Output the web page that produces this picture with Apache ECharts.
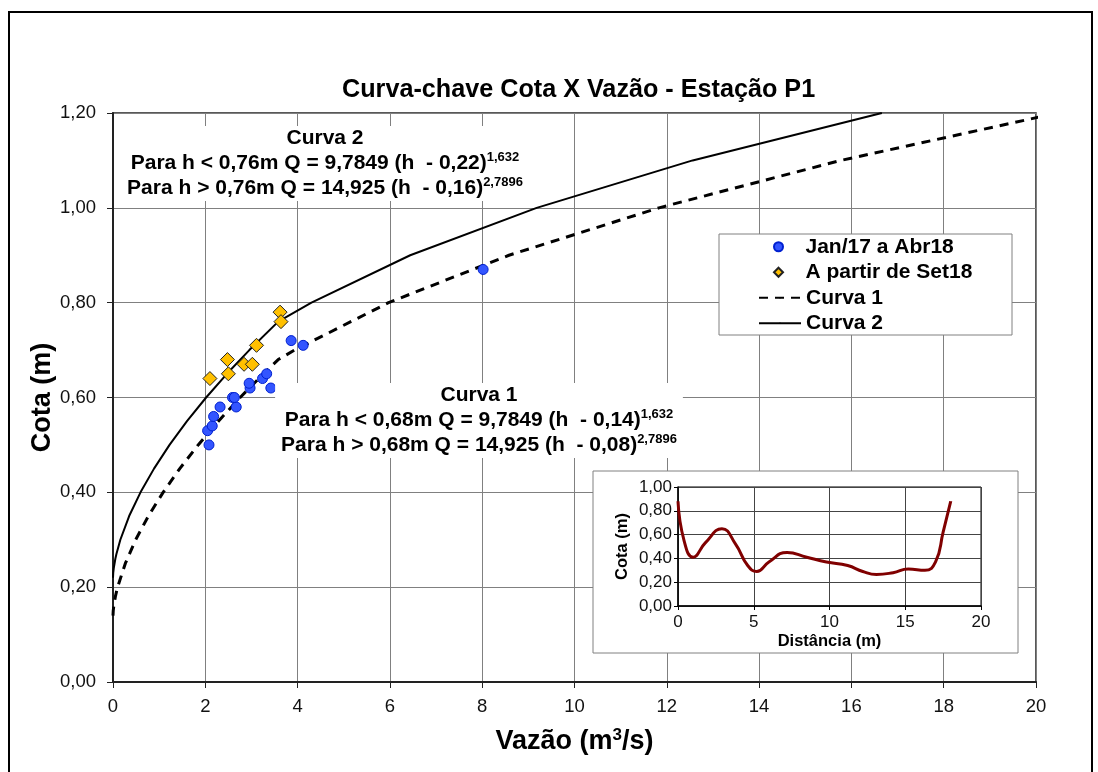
<!DOCTYPE html>
<html>
<head>
<meta charset="utf-8">
<script src="https://cdn.jsdelivr.net/npm/echarts@6/dist/echarts.min.js"></script>
<style>
html,body{margin:0;padding:0;background:#fff;}
#chart{width:1098px;height:772px;}
</style>
</head>
<body>
<div id="chart"></div>
<script>
// ---- Data ----
// Scatter: "Jan/17 a Abr18"
const blueQ = [2.08, 2.05, 2.15, 2.18, 2.32, 2.67, 2.59, 2.63, 2.97, 2.95, 3.24, 3.33, 3.42, 3.86, 4.12, 8.02];
const blueH = [0.50, 0.53, 0.54, 0.56, 0.58, 0.58, 0.60, 0.60, 0.62, 0.63, 0.64, 0.65, 0.62, 0.72, 0.71, 0.87];
// Scatter: "A partir de Set18"
const orangeQ = [2.10, 2.48, 2.50, 2.84, 3.02, 3.11, 3.62, 3.64];
const orangeH = [0.64, 0.68, 0.65, 0.67, 0.67, 0.71, 0.78, 0.76];
// Curva 1 (dashed)
const curve1H = [0.14, 0.15, 0.16, 0.18, 0.20, 0.25, 0.30, 0.35, 0.40, 0.45, 0.50, 0.55, 0.60, 0.65, 0.68, 0.70, 0.80, 0.90, 1.00, 1.10, 1.20];
const curve1Q = [0.000, 0.005, 0.017, 0.051, 0.099, 0.267, 0.491, 0.766, 1.086, 1.447, 1.846, 2.284, 2.755, 3.262, 3.580, 3.934, 5.97, 8.58, 11.83, 15.77, 20.47];
// Curva 2 (solid)
const curve2H = [0.22, 0.23, 0.24, 0.26, 0.27, 0.30, 0.35, 0.40, 0.45, 0.50, 0.55, 0.60, 0.65, 0.70, 0.76, 0.80, 0.90, 1.00, 1.10, 1.20];
const curve2Q = [0.000, 0.005, 0.017, 0.051, 0.074, 0.159, 0.350, 0.596, 0.889, 1.225, 1.603, 2.018, 2.468, 2.954, 3.580, 4.30, 6.44, 9.18, 12.56, 16.66];
// Inset: cross-section
const distX = [0, 0.4, 1.0, 1.8, 2.9, 3.8, 4.6, 5.2, 6.0, 7.2, 8.5, 9.8, 11.2, 12.2, 13.1, 14.2, 15.2, 16.3, 17.0, 17.5, 18.0];
const distH = [0.88, 0.55, 0.41, 0.53, 0.65, 0.52, 0.34, 0.29, 0.37, 0.45, 0.41, 0.37, 0.34, 0.29, 0.265, 0.28, 0.31, 0.30, 0.37, 0.62, 0.88];

const legendNames = ['Jan/17 a Abr18', 'A partir de Set18', 'Curva 1', 'Curva 2'];
const titleText = 'Curva-chave Cota X Vazão - Estação P1';
const yAxisName = 'Cota (m)';
const insetXName = 'Distância (m)';
const curva2Lines = ['Curva 2', 'Para h < 0,76m Q = 9,7849 (h  - 0,22)', '1,632', 'Para h > 0,76m Q = 14,925 (h  - 0,16)', '2,7896'];
const curva1Lines = ['Curva 1', 'Para h < 0,68m Q = 9,7849 (h  - 0,14)', '1,632', 'Para h > 0,68m Q = 14,925 (h  - 0,08)', '2,7896'];

const FONT = '"Liberation Sans", Arial, sans-serif';
const pairs = (xs, ys) => xs.map((x, i) => [x, ys[i]]);
const comma = (d) => (v) => v.toFixed(d).replace('.', ',');

const richStyles = {
  t: {fontSize: 21, fontWeight: 'bold', fontFamily: FONT, color: '#000', lineHeight: 25, align: 'center'},
  b: {fontSize: 21, fontWeight: 'bold', fontFamily: FONT, color: '#000', lineHeight: 25, align: 'center'},
  s: {fontSize: 13, fontWeight: 'bold', fontFamily: FONT, color: '#000', lineHeight: 25, align: 'center', verticalAlign: 'top'}
};
const richBlock = (L) => `{t|${L[0]}}\n{b|${L[1]}}{s|${L[2]}}\n{b|${L[3]}}{s|${L[4]}}`;

const chart = echarts.init(document.getElementById('chart'), null, {renderer: 'canvas'});
const axisCommon = {
  axisLine: {show: true, onZero: false, lineStyle: {color: '#222', width: 2}},
  axisTick: {show: true, inside: false, length: 6, lineStyle: {color: '#222', width: 1}},
  splitLine: {show: true, lineStyle: {color: '#808080', width: 1}}
};
const legendText = {fontSize: 21, fontWeight: 'bold', fontFamily: FONT, color: '#000', lineHeight: 25.5};

const option = {
  backgroundColor: '#fff',
  animation: false,
  title: {
    text: titleText, left: 337, top: 73,
    textStyle: {fontSize: 25.2, fontWeight: 'bold', fontFamily: FONT, color: '#000'}
  },
  legend: [
    {
      data: [
        {name: legendNames[0], icon: 'circle'},
        {name: legendNames[1], icon: 'path://M5,0L10,5L5,10L0,5Z'}
      ],
      orient: 'vertical', left: 773, top: 234, padding: 0,
      itemWidth: 44, itemHeight: 9, itemGap: 0, symbolKeepAspect: true,
      textStyle: legendText, z: 20
    },
    {
      data: legendNames.slice(2, 4),
      orient: 'vertical', left: 758, top: 285, padding: 0,
      itemWidth: 42, itemHeight: 2, itemGap: 0,
      textStyle: legendText, z: 20
    }
  ],
  grid: [
    {left: 113, right: 62, top: 113, bottom: 90, show: true, borderColor: '#222', borderWidth: 1.5, backgroundColor: 'transparent'},
    {left: 678, right: 117, top: 487, bottom: 166, show: true, borderColor: '#000', borderWidth: 1, backgroundColor: 'transparent', z: 55}
  ],
  xAxis: [
    Object.assign({}, axisCommon, {
      type: 'value', gridIndex: 0, min: 0, max: 20, interval: 2,
      axisLabel: {fontSize: 18.5, color: '#111', fontFamily: FONT, margin: 15},
      name: '{a|Vazão (m}{s|3}{a|/s)}', nameLocation: 'middle', nameGap: 45, nameMoveOverlap: false,
      nameTextStyle: {rich: {
        a: {fontSize: 27, fontWeight: 'bold', fontFamily: FONT, color: '#000', lineHeight: 30},
        s: {fontSize: 17, fontWeight: 'bold', fontFamily: FONT, color: '#000', lineHeight: 30, verticalAlign: 'top'}
      }}
    }),
    Object.assign({}, axisCommon, {
      type: 'value', gridIndex: 1, min: 0, max: 20, interval: 5, z: 60,
      axisLine: {show: true, onZero: false, lineStyle: {color: '#000', width: 1.5}},
      axisTick: {show: true, length: 4, lineStyle: {color: '#000'}},
      splitLine: {show: true, lineStyle: {color: '#444', width: 1}},
      axisLabel: {fontSize: 17, color: '#111', fontFamily: FONT, margin: 8},
      name: insetXName, nameLocation: 'middle', nameGap: 27,
      nameTextStyle: {fontSize: 16.5, fontWeight: 'bold', fontFamily: FONT, color: '#000'}
    })
  ],
  yAxis: [
    Object.assign({}, axisCommon, {
      type: 'value', gridIndex: 0, min: 0, max: 1.2, interval: 0.2,
      axisLabel: {fontSize: 18.5, color: '#111', fontFamily: FONT, margin: 17, formatter: comma(2)},
      name: yAxisName, nameLocation: 'middle', nameGap: 57, nameMoveOverlap: false,
      nameTextStyle: {fontSize: 27, fontWeight: 'bold', fontFamily: FONT, color: '#000'}
    }),
    Object.assign({}, axisCommon, {
      type: 'value', gridIndex: 1, min: 0, max: 1, interval: 0.2, z: 60,
      axisLine: {show: true, onZero: false, lineStyle: {color: '#000', width: 1.5}},
      axisTick: {show: true, length: 4, lineStyle: {color: '#000'}},
      splitLine: {show: true, lineStyle: {color: '#444', width: 1}},
      axisLabel: {fontSize: 17, color: '#111', fontFamily: FONT, margin: 6, formatter: comma(2)},
      name: yAxisName, nameLocation: 'middle', nameGap: 47,
      nameTextStyle: {fontSize: 16.5, fontWeight: 'bold', fontFamily: FONT, color: '#000'}
    })
  ],
  series: [
    {
      name: legendNames[0], type: 'scatter', xAxisIndex: 0, yAxisIndex: 0,
      data: pairs(blueQ, blueH), symbol: 'circle', symbolSize: 10,
      itemStyle: {color: '#3355ff', borderColor: '#0020d0', borderWidth: 1, opacity: 1}, z: 3
    },
    {
      name: legendNames[1], type: 'scatter', xAxisIndex: 0, yAxisIndex: 0,
      data: pairs(orangeQ, orangeH), symbol: 'diamond', symbolSize: [14, 14],
      itemStyle: {color: '#ffc000', borderColor: '#222', borderWidth: 1, opacity: 1}, z: 3
    },
    {
      name: legendNames[2], type: 'line', xAxisIndex: 0, yAxisIndex: 0,
      data: pairs(curve1Q, curve1H), symbol: 'none', smooth: false, clip: true,
      lineStyle: {color: '#000', width: 3, type: [9, 7]}, itemStyle: {color: '#000'}, z: 2
    },
    {
      name: legendNames[3], type: 'line', xAxisIndex: 0, yAxisIndex: 0,
      data: pairs(curve2Q, curve2H), symbol: 'none', smooth: false, clip: true,
      lineStyle: {color: '#000', width: 2}, itemStyle: {color: '#000'}, z: 2
    },
    {
      name: 'Seção', type: 'line', xAxisIndex: 1, yAxisIndex: 1,
      data: pairs(distX, distH), symbol: 'none', smooth: 0.5,
      lineStyle: {color: '#800000', width: 3}, z: 70
    }
  ],
  graphic: [
    {type: 'rect', z: 1, silent: true,
     shape: {x: 9, y: 12, width: 1083, height: 800},
     style: {fill: 'none', stroke: '#000', lineWidth: 2}},
    {type: 'rect', z: 4, silent: true,
     shape: {x: 719, y: 234, width: 293, height: 101},
     style: {fill: '#fff', stroke: '#808080', lineWidth: 1}},
    {type: 'rect', z: 50, silent: true,
     shape: {x: 593, y: 471, width: 425, height: 182},
     style: {fill: '#fff', stroke: '#808080', lineWidth: 1}},
    {type: 'text', z: 100, silent: true, x: 325, y: 126,
     style: {text: richBlock(curva2Lines), rich: richStyles, align: 'center', verticalAlign: 'top',
             backgroundColor: '#fff', padding: [0, 6, 0, 6]}},
    {type: 'text', z: 100, silent: true, x: 479, y: 383,
     style: {text: richBlock(curva1Lines), rich: richStyles, align: 'center', verticalAlign: 'top',
             backgroundColor: '#fff', padding: [0, 6, 0, 6]}}
  ]
};
chart.setOption(option);
</script>
</body>
</html>
